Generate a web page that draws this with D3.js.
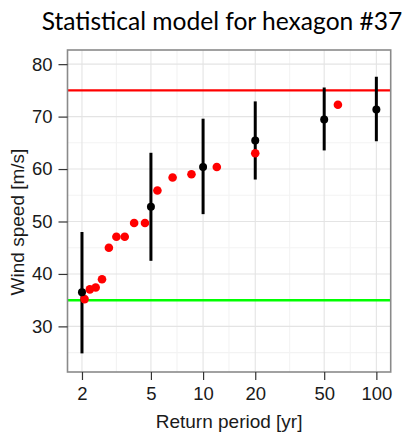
<!DOCTYPE html>
<html>
<head>
<meta charset="utf-8">
<script src="https://cdn.jsdelivr.net/npm/d3@7"></script>
<style>
  html, body { margin: 0; padding: 0; background: #fff; }
  svg { display: block; }
</style>
</head>
<body>
<div id="chart"></div>
<script>
// model estimates per return period (black points + interval)
var returnPeriods = [2, 5, 10, 20, 50, 100];
var modelMean  = [36.5, 52.8, 60.4, 65.45, 69.45, 71.35];
var modelLower = [24.85, 42.5, 51.4, 58.0, 63.55, 65.3];
var modelUpper = [48.0, 63.1, 69.6, 72.9, 75.55, 77.6];

// observed maxima (red points)
var obsPeriods = [60, 20, 12, 8.57, 6.67, 5.45, 4.62, 4, 3.53, 3.16, 2.86, 2.61, 2.4, 2.22, 2.07];
var obsSpeeds  = [72.25, 63.0, 60.4, 59.0, 58.4, 55.9, 49.7, 49.7, 47.1, 47.1, 45.0, 39.0, 37.4, 37.05, 35.2];

// thresholds
var upperThreshold = 75;
var lowerThreshold = 35;

var xTicks = [2, 5, 10, 20, 50, 100];
var xMinor = [3.16, 7.07, 14.1, 31.6, 70.7];
var yTicks = [30, 40, 50, 60, 70, 80];
var yMinor = [25, 35, 45, 55, 65, 75];

var width = 411, height = 433;
var pLeft = 67.5, pRight = 390.7, pTop = 50, pBottom = 372;

var svg = d3.select("#chart").append("svg")
    .attr("width", width)
    .attr("height", height);

var x = d3.scaleLog().domain([1.65, 121]).range([pLeft, pRight]);
var y = d3.scaleLinear().domain([21.3, 82.7]).range([pBottom, pTop]);

// panel background
svg.append("rect")
    .attr("x", pLeft).attr("y", pTop)
    .attr("width", pRight - pLeft).attr("height", pBottom - pTop)
    .attr("fill", "#fff");

var grid = svg.append("g");

grid.selectAll("line.ymin").data(yMinor).enter().append("line")
    .attr("x1", pLeft).attr("x2", pRight)
    .attr("y1", function(d) { return y(d); })
    .attr("y2", function(d) { return y(d); })
    .attr("stroke", "#f3f3f3").attr("stroke-width", 1.1);

grid.selectAll("line.xmin").data(xMinor).enter().append("line")
    .attr("y1", pTop).attr("y2", pBottom)
    .attr("x1", function(d) { return x(d); })
    .attr("x2", function(d) { return x(d); })
    .attr("stroke", "#f3f3f3").attr("stroke-width", 1.1);

grid.selectAll("line.ymaj").data(yTicks).enter().append("line")
    .attr("x1", pLeft).attr("x2", pRight)
    .attr("y1", function(d) { return y(d); })
    .attr("y2", function(d) { return y(d); })
    .attr("stroke", "#e4e4e4").attr("stroke-width", 1.1);

grid.selectAll("line.xmaj").data(xTicks).enter().append("line")
    .attr("y1", pTop).attr("y2", pBottom)
    .attr("x1", function(d) { return x(d); })
    .attr("x2", function(d) { return x(d); })
    .attr("stroke", "#e4e4e4").attr("stroke-width", 1.1);

// threshold lines
svg.append("line")
    .attr("x1", pLeft).attr("x2", pRight)
    .attr("y1", y(upperThreshold)).attr("y2", y(upperThreshold))
    .attr("stroke", "#ff0000").attr("stroke-width", 2.4);

svg.append("line")
    .attr("x1", pLeft).attr("x2", pRight)
    .attr("y1", y(lowerThreshold)).attr("y2", y(lowerThreshold))
    .attr("stroke", "#00ff00").attr("stroke-width", 2.5);

// error bars
svg.append("g").selectAll("line").data(returnPeriods).enter().append("line")
    .attr("x1", function(d) { return x(d); })
    .attr("x2", function(d) { return x(d); })
    .attr("y1", function(d, i) { return y(modelLower[i]); })
    .attr("y2", function(d, i) { return y(modelUpper[i]); })
    .attr("stroke", "#000").attr("stroke-width", 3);

// observed points
svg.append("g").selectAll("circle").data(obsPeriods).enter().append("circle")
    .attr("cx", function(d) { return x(d); })
    .attr("cy", function(d, i) { return y(obsSpeeds[i]); })
    .attr("r", 4.3)
    .attr("fill", "#ff0000");

// model points
svg.append("g").selectAll("circle").data(returnPeriods).enter().append("circle")
    .attr("cx", function(d) { return x(d); })
    .attr("cy", function(d, i) { return y(modelMean[i]); })
    .attr("r", 4)
    .attr("fill", "#000");

// panel border
svg.append("rect")
    .attr("x", pLeft).attr("y", pTop)
    .attr("width", pRight - pLeft).attr("height", pBottom - pTop)
    .attr("fill", "none")
    .attr("stroke", "#8a8a8a").attr("stroke-width", 1.6);

// axes
var xAxis = svg.append("g")
    .attr("transform", "translate(0," + pBottom + ")")
    .call(d3.axisBottom(x).tickValues(xTicks).tickFormat(d3.format("d"))
        .tickSize(8).tickPadding(6.5));

var yAxis = svg.append("g")
    .attr("transform", "translate(" + pLeft + ",0)")
    .call(d3.axisLeft(y).tickValues(yTicks).tickSize(9).tickPadding(6));

[xAxis, yAxis].forEach(function(a) {
    a.select(".domain").remove();
    a.selectAll(".tick line").attr("stroke", "#333").attr("stroke-width", 1.2);
    a.selectAll(".tick text")
        .attr("fill", "#1a1a1a")
        .style("font-family", "'Liberation Sans', Arial, sans-serif")
        .style("font-size", "18.5px");
});

// axis titles
svg.append("text")
    .attr("x", (pLeft + pRight) / 2)
    .attr("y", 428.3)
    .attr("text-anchor", "middle")
    .attr("fill", "#1a1a1a")
    .style("font-family", "'Liberation Sans', Arial, sans-serif")
    .style("font-size", "19px")
    .text("Return period [yr]");

svg.append("text")
    .attr("transform", "translate(23.5,222) rotate(-90)")
    .attr("text-anchor", "middle")
    .attr("fill", "#1a1a1a")
    .style("font-family", "'Liberation Sans', Arial, sans-serif")
    .style("font-size", "19px")
    .text("Wind speed [m/s]");

// title, sized to fill the same width as the original
var title = svg.append("text")
    .attr("x", 222)
    .attr("y", 30)
    .attr("text-anchor", "middle")
    .attr("fill", "#000")
    .style("font-family", "Lato, 'Open Sans', sans-serif")
    .style("font-size", "23px")
    .text("Statistical model for hexagon #37");

var tw = title.node().getComputedTextLength();
title.style("font-size", (23 * 361 / tw) + "px");
</script>
</body>
</html>
